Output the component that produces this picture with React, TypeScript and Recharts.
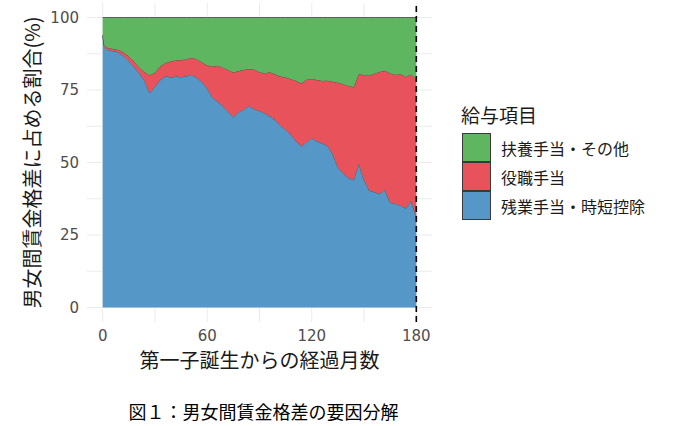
import { Area, AreaChart, CartesianGrid, Label, ReferenceLine, XAxis, YAxis } from "recharts";

// months since birth of first child
const months = [
  0, 1, 3, 6, 9, 12, 15, 18, 21, 24, 27, 30, 33, 36, 39, 42, 45, 48, 51, 54, 57, 60,
  63, 66, 69, 72, 75, 78, 81, 84, 87, 90, 93, 96, 99, 102, 105, 108, 111, 114, 117, 120,
  123, 126, 129, 132, 135, 138, 141, 144, 147, 150, 153, 156, 159, 162, 165, 168, 171,
  174, 177, 180,
];

// share of the gender wage gap (%), bottom to top
const overtime = [
  93.6, 89.8, 88.8, 88.5, 88.0, 86.8, 85.0, 83.0, 80.8, 78.2, 74.0, 76.2, 78.5, 79.8, 79.4,
  79.7, 79.5, 79.8, 80.3, 79.2, 77.8, 75.5, 72.5, 71.0, 69.5, 67.5, 65.7, 67.4, 68.3, 69.6,
  68.4, 67.8, 67.0, 66.0, 64.7, 62.8, 61.3, 59.6, 57.4, 55.6, 57.0, 58.4, 57.4, 56.6, 55.8,
  53.0, 48.3, 46.3, 44.7, 44.0, 49.6, 44.0, 40.4, 39.8, 39.2, 40.6, 36.2, 35.8, 35.2, 34.2,
  36.9, 31.2,
];
const position = [
  0.4, 0.5, 0.8, 0.7, 0.9, 1.2, 1.6, 1.9, 2.0, 3.0, 6.2, 4.8, 4.7, 4.6, 5.5, 5.6, 5.9, 5.8,
  5.9, 6.4, 6.8, 8.0, 10.7, 12.4, 13.3, 14.4, 15.3, 14.2, 13.7, 12.7, 13.7, 13.4, 13.8, 15.2,
  15.7, 16.9, 18.1, 19.2, 20.8, 21.7, 21.6, 20.5, 21.1, 21.6, 22.5, 24.9, 29.3, 30.8, 31.8,
  32.0, 31.0, 36.2, 39.6, 40.9, 42.1, 41.1, 44.6, 44.5, 45.3, 45.4, 43.5, 47.4,
];
const family = [
  6.0, 9.7, 10.4, 10.8, 11.1, 12.0, 13.4, 15.1, 17.2, 18.8, 19.8, 19.0, 16.8, 15.6, 15.1,
  14.7, 14.6, 14.4, 13.8, 14.4, 15.4, 16.5, 16.8, 16.6, 17.2, 18.1, 19.0, 18.4, 18.0, 17.7,
  17.9, 18.8, 19.2, 18.8, 19.6, 20.3, 20.6, 21.2, 21.8, 22.7, 21.4, 21.1, 21.5, 21.8, 21.7,
  22.1, 22.4, 22.9, 23.5, 24.0, 19.4, 19.8, 20.0, 19.3, 18.7, 18.3, 19.2, 19.7, 19.5, 20.4,
  19.6, 21.4,
];

const xTicks = [0, 60, 120, 180];
const yTicks = [0, 25, 50, 75, 100];
const xGrid = [0, 30, 60, 90, 120, 150, 180];
const yGrid = [0, 12.5, 25, 37.5, 50, 62.5, 75, 87.5, 100];

const series = [
  { key: "overtime", name: "残業手当・時短控除", color: "#5597c7" },
  { key: "position", name: "役職手当", color: "#e8525a" },
  { key: "family", name: "扶養手当・その他", color: "#5fb660" },
];

const data = months.map((m, i) => ({
  month: m,
  overtime: overtime[i],
  position: position[i],
  family: family[i],
}));

const JP = "'Noto Sans CJK JP', 'DejaVu Sans', sans-serif";
const tickStyle = { fill: "#4d4d4d", fontSize: 15, fontFamily: "'DejaVu Sans', sans-serif" };

export default function App() {
  return (
    <div
      style={{
        position: "absolute",
        left: 0,
        top: 0,
        width: 686,
        height: 426,
        background: "#fff",
        fontFamily: JP,
      }}
    >
      <AreaChart
        width={440}
        height={380}
        data={data}
        margin={{ top: 3, right: 8, left: 30, bottom: 18 }}
      >
        <CartesianGrid
          stroke="#ebebeb"
          strokeWidth={1}
          horizontalValues={yGrid}
          verticalValues={xGrid}
        />
        <XAxis
          dataKey="month"
          type="number"
          domain={[-9, 189]}
          ticks={xTicks}
          axisLine={false}
          tickLine={false}
          tick={tickStyle}
          height={40}
        >
          <Label
            content={({ viewBox }: any) => (
              <text
                x={viewBox.x + viewBox.width / 2}
                y={viewBox.y + 46}
                textAnchor="middle"
                fontSize={20}
                fill="#1a1a1a"
                fontFamily={JP}
              >
                第一子誕生からの経過月数
              </text>
            )}
          />
        </XAxis>
        <YAxis
          type="number"
          domain={[-5, 105]}
          ticks={yTicks}
          axisLine={false}
          tickLine={false}
          tick={tickStyle}
          width={57}
        >
          <Label
            content={({ viewBox }: any) => {
              const cx = viewBox.x + 1;
              const cy = viewBox.y + viewBox.height / 2;
              return (
                <text
                  x={cx}
                  y={cy}
                  textAnchor="middle"
                  dominantBaseline="central"
                  fontSize={20}
                  fill="#1a1a1a"
                  fontFamily={JP}
                  transform={`rotate(-90, ${cx}, ${cy})`}
                >
                  男女間賃金格差に占める割合(%)
                </text>
              );
            }}
          />
        </YAxis>
        {series.map((s) => (
          <Area
            key={s.key}
            type="linear"
            dataKey={s.key}
            name={s.name}
            stackId="gap"
            stroke="#333"
            strokeWidth={0.7}
            fill={s.color}
            fillOpacity={1}
            isAnimationActive={false}
          />
        ))}
        <ReferenceLine x={180} stroke="#000" strokeWidth={1.6} strokeDasharray="6 4" />
      </AreaChart>

      <div style={{ position: "absolute", left: 461, top: 101, fontSize: 19, color: "#1a1a1a" }}>
        給与項目
      </div>
      <div style={{ position: "absolute", left: 462, top: 133 }}>
        {[...series].reverse().map((s) => (
          <div key={s.key} style={{ display: "flex", alignItems: "center", height: 29 }}>
            <div
              style={{
                width: 29,
                height: 29,
                boxSizing: "border-box",
                background: s.color,
                border: "1px solid #3a3a3a",
              }}
            />
            <span style={{ marginLeft: 10, fontSize: 16, color: "#1a1a1a" }}>{s.name}</span>
          </div>
        ))}
      </div>

      <div
        style={{
          position: "absolute",
          left: 0,
          top: 398,
          width: 527,
          textAlign: "center",
          fontSize: 18,
          fontWeight: 400,
          color: "#000",
        }}
      >
        図１：男女間賃金格差の要因分解
      </div>
    </div>
  );
}
